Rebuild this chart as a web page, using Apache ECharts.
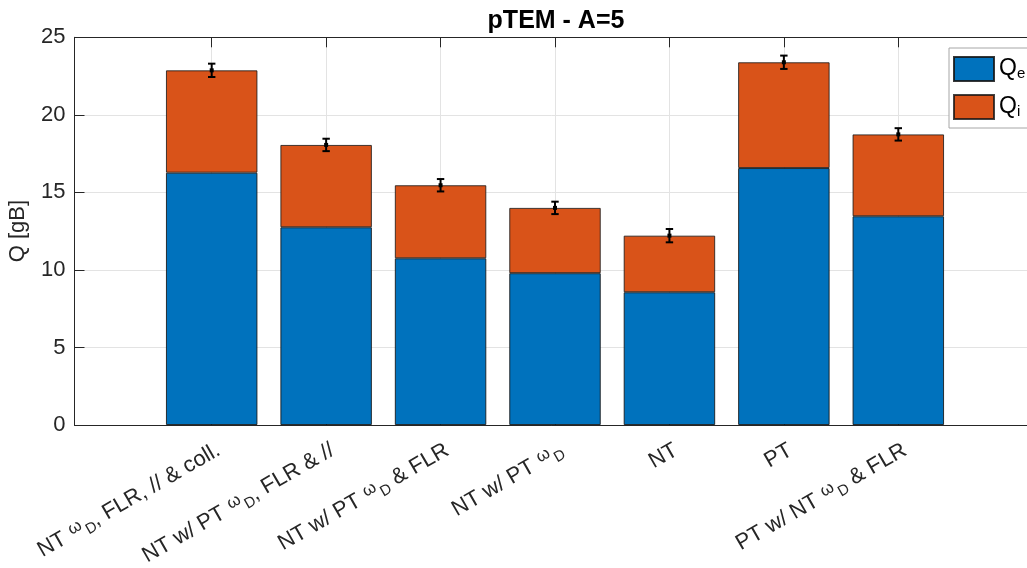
<!DOCTYPE html>
<html>
<head>
<meta charset="utf-8">
<script src="https://cdn.jsdelivr.net/npm/echarts@6/dist/echarts.min.js"></script>
<style>html,body{margin:0;padding:0;background:#fff;}#c{width:1027px;height:568px;}</style>
</head>
<body>
<div id="c"></div>
<script>
const categories = [
  'NT {w|ω}{s|D}, FLR, // & coll.',
  'NT w/ PT {w|ω}{s|D}, FLR & //',
  'NT w/ PT {w|ω}{s|D} & FLR',
  'NT w/ PT {w|ω}{s|D}',
  'NT',
  'PT',
  'PT w/ NT {w|ω}{s|D} & FLR'
];
const Qe = [16.27, 12.75, 10.75, 9.79, 8.56, 16.57, 13.46];
const Qi = [6.60, 5.31, 4.71, 4.21, 3.65, 6.82, 5.28];
const errs = [0.43, 0.40, 0.40, 0.40, 0.43, 0.43, 0.40];
const yTicks = [0, 5, 10, 15, 20, 25];

const axisColor = '#262626';
const gridColor = '#e3e3e3';
const font = 'Liberation Sans, Arial, Helvetica, sans-serif';

const chart = echarts.init(document.getElementById('c'), null, {renderer: 'canvas'});

const totals = Qe.map((v, i) => v + Qi[i]);
const errData = categories.map((c, i) => [i, totals[i], errs[i]]);

const richSub = {
  w: {fontSize: 17, lineHeight: 17, padding: [0, 2, 7, 1], fontFamily: font, color: axisColor},
  s: {fontSize: 15, lineHeight: 15, padding: [11, 0, 0, 0], fontFamily: font, color: axisColor}
};

const gTop = 37.3, gBottom = 143;

const option = {
  animation: false,
  backgroundColor: '#fff',
  title: {
    text: 'pTEM - A=5',
    left: 551, top: 4, textAlign: 'center',
    textStyle: {fontFamily: font, fontWeight: 'bold', fontSize: 25, color: '#000'}
  },
  legend: {
    orient: 'vertical',
    left: 949, top: 48,
    padding: [8, 4, 8, 4],
    icon: 'rect',
    itemWidth: 40, itemHeight: 24, itemGap: 12, itemTextGap: 3,
    backgroundColor: '#fff',
    borderColor: '#a6a6a6', borderWidth: 1,
    data: ['Qe', 'Qi'],
    formatter: function (n) { return 'Q{s|' + n.slice(1) + '}'; },
    textStyle: {
      fontFamily: font, fontSize: 23, color: '#000', lineHeight: 24,
      rich: {s: {fontSize: 15, lineHeight: 15, padding: [9, 0, 0, 0], fontFamily: font, color: '#000'}}
    }
  },
  grid: [
    {left: 211.7, right: 1027 - 898.3, top: gTop, bottom: gBottom, containLabel: false, outerBoundsMode: 'none'},
    {left: 74.5, right: -8.6, top: gTop, bottom: gBottom, containLabel: false, outerBoundsMode: 'none'}
  ],
  xAxis: [{
    type: 'category', gridIndex: 0, data: categories, boundaryGap: false, position: 'bottom',
    axisLine: {show: false},
    axisTick: {show: true, inside: true, length: 10, interval: 0, lineStyle: {color: axisColor}},
    splitLine: {show: true, interval: 0, lineStyle: {color: gridColor, width: 1}},
    axisLabel: {
      show: true, interval: 0, rotate: 30, margin: 12,
      verticalAlign: 'top', hideOverlap: false,
      fontFamily: font, fontSize: 22, color: axisColor, lineHeight: 27,
      rich: richSub
    }
  }, {
    type: 'category', gridIndex: 0, data: categories, boundaryGap: false, position: 'top',
    axisLine: {show: false},
    axisTick: {show: true, inside: true, length: 10, interval: 0, lineStyle: {color: axisColor}},
    splitLine: {show: false},
    axisLabel: {show: false}
  }, {
    type: 'value', gridIndex: 1, min: 0, max: 1, position: 'bottom',
    axisLine: {show: true, onZero: false, lineStyle: {color: axisColor, width: 1}},
    axisTick: {show: false}, splitLine: {show: false}, axisLabel: {show: false}
  }, {
    type: 'value', gridIndex: 1, min: 0, max: 1, position: 'top',
    axisLine: {show: true, onZero: false, lineStyle: {color: axisColor, width: 1}},
    axisTick: {show: false}, splitLine: {show: false}, axisLabel: {show: false}
  }],
  yAxis: [{
    type: 'value', gridIndex: 0, min: 0, max: 25, interval: 5, show: false
  }, {
    type: 'value', gridIndex: 1, min: 0, max: 25, interval: 5,
    name: 'Q [gB]', nameLocation: 'middle', nameGap: 46, nameRotate: 90,
    nameTextStyle: {fontFamily: font, fontSize: 22, color: axisColor},
    axisLine: {show: true, lineStyle: {color: axisColor, width: 1}},
    axisTick: {show: true, inside: true, length: 10, lineStyle: {color: axisColor}},
    splitLine: {show: true, lineStyle: {color: gridColor, width: 1}},
    axisLabel: {
      margin: 9, fontFamily: font, fontSize: 22, color: axisColor,
      formatter: function (v) { return yTicks.indexOf(v) >= 0 ? String(v) : ''; }
    }
  }],
  series: [{
    name: 'Qe', type: 'bar', stack: 'total', barWidth: 91.5, clip: false,
    xAxisIndex: 0, yAxisIndex: 0,
    data: Qe,
    itemStyle: {color: '#0072BD', borderColor: 'rgba(20,20,20,0.85)', borderWidth: 1}
  }, {
    name: 'Qi', type: 'bar', stack: 'total', barWidth: 91.5, clip: false,
    xAxisIndex: 0, yAxisIndex: 0,
    data: Qi,
    itemStyle: {color: '#D95319', borderColor: 'rgba(20,20,20,0.8)', borderWidth: 1}
  }, {
    name: 'err', type: 'custom', z: 10, clip: false,
    xAxisIndex: 0, yAxisIndex: 0,
    data: errData,
    renderItem: function (params, api) {
      const x = api.value(0), y = api.value(1), e = api.value(2);
      const t = api.coord([x, y + e]);
      const b = api.coord([x, y - e]);
      const m = api.coord([x, y]);
      const hw = 3.7;
      const st = {stroke: '#000', lineWidth: 2};
      return {
        type: 'group',
        children: [
          {type: 'line', shape: {x1: t[0], y1: t[1], x2: b[0], y2: b[1]}, style: st},
          {type: 'line', shape: {x1: t[0] - hw, y1: t[1], x2: t[0] + hw, y2: t[1]}, style: st},
          {type: 'line', shape: {x1: b[0] - hw, y1: b[1], x2: b[0] + hw, y2: b[1]}, style: st},
          {type: 'rect', shape: {x: m[0] - 2, y: m[1] - 2, width: 4, height: 4}, style: {fill: '#000'}}
        ]
      };
    }
  }]
};
chart.setOption(option);
</script>
</body>
</html>
